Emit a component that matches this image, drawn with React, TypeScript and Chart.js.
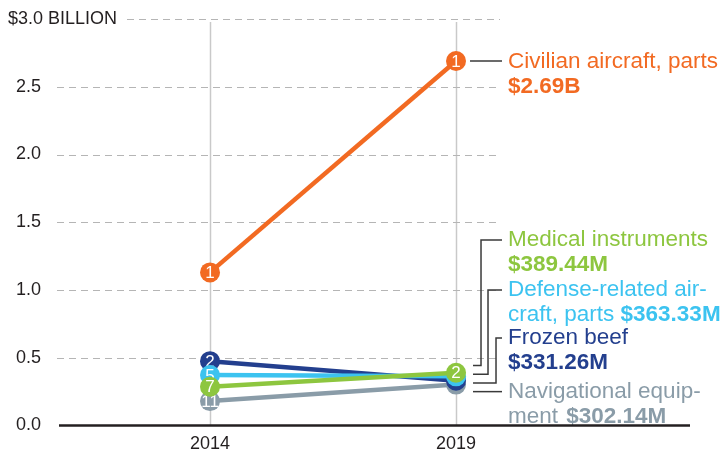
import React, { useEffect, useRef } from "react";
import { Chart, registerables } from "chart.js";

Chart.register(...registerables);

// ---- data ----
const years = [2014, 2019];
const civilianAircraft = [1.13, 2.69];
const frozenBeef = [0.475, 0.331];
const defenseAircraft = [0.373, 0.363];
const medicalInstruments = [0.286, 0.389];
const navigationalEquipment = [0.18, 0.302];

const civilianRanks = ["1", "1"];
const beefRanks = ["2", "4"];
const defenseRanks = ["5", "3"];
const medicalRanks = ["7", "2"];
const navRanks = ["11", "6"];

const yTickValues = [0, 0.5, 1, 1.5, 2, 2.5, 3];
const yTickLabels = ["0.0", "0.5", "1.0", "1.5", "2.0", "2.5", "$3.0 BILLION"];
const xTickLabels = ["2014", "2019"];

const COLORS = {
  civilian: "#F26A22",
  beef: "#233F8E",
  defense: "#3CC3F0",
  medical: "#8DC63F",
  nav: "#8A9CA8",
};

const FONT = '"Liberation Sans", Arial, Helvetica, sans-serif';

const seriesRanks = [navRanks, beefRanks, defenseRanks, medicalRanks, civilianRanks];

const mkData = (vals: number[]) => vals.map((v, i) => ({ x: years[i], y: v }));

const annotPlugin = {
  id: "annot",
  beforeDatasetsDraw(chart: any) {
    const ctx = chart.ctx as CanvasRenderingContext2D;
    const { chartArea } = chart;
    const xs = chart.scales.x;
    const ys = chart.scales.y;
    ctx.save();
    // vertical grid lines at years
    ctx.strokeStyle = "#c9c9c9";
    ctx.lineWidth = 1.5;
    years.forEach((yr) => {
      const x = Math.round(xs.getPixelForValue(yr)) + 0.5;
      ctx.beginPath();
      ctx.moveTo(x, ys.getPixelForValue(3) + 3);
      ctx.lineTo(x, ys.getPixelForValue(0));
      ctx.stroke();
    });
    // horizontal dashed grid
    ctx.strokeStyle = "#b5b5b5";
    ctx.lineWidth = 1;
    ctx.setLineDash([7, 5]);
    yTickValues.forEach((v) => {
      if (v === 0) return;
      const y = Math.round(ys.getPixelForValue(v)) + 0.5;
      const startX = v === 3 ? chartArea.left + 70 : chartArea.left;
      ctx.beginPath();
      ctx.moveTo(startX, y);
      ctx.lineTo(chartArea.right, y);
      ctx.stroke();
    });
    ctx.setLineDash([]);
    // y labels
    ctx.fillStyle = "#231f20";
    ctx.font = `18px ${FONT}`;
    ctx.textBaseline = "middle";
    yTickValues.forEach((v, i) => {
      const y = ys.getPixelForValue(v);
      if (i === yTickValues.length - 1) {
        ctx.textAlign = "left";
        ctx.fillText(yTickLabels[i], 8, y);
      } else {
        ctx.textAlign = "right";
        ctx.fillText(yTickLabels[i], 41, y);
      }
    });
    // x labels
    ctx.textAlign = "center";
    years.forEach((yr, i) => {
      ctx.fillText(xTickLabels[i], xs.getPixelForValue(yr), 444);
    });
    ctx.restore();
  },
  afterDatasetDraw(chart: any, args: any) {
    const ctx = chart.ctx as CanvasRenderingContext2D;
    const meta = chart.getDatasetMeta(args.index);
    const ranks = seriesRanks[args.index];
    ctx.save();
    ctx.fillStyle = "#ffffff";
    ctx.font = `17px ${FONT}`;
    ctx.textAlign = "center";
    ctx.textBaseline = "middle";
    meta.data.forEach((pt: any, i: number) => {
      ctx.fillText(ranks[i], pt.x, pt.y + 1);
    });
    ctx.restore();
  },
  afterDatasetsDraw(chart: any) {
    const ctx = chart.ctx as CanvasRenderingContext2D;
    const ys = chart.scales.y;
    const xs = chart.scales.x;
    ctx.save();
    const px2019 = xs.getPixelForValue(2019);
    const textX = px2019 + 52;
    const lineEnd = px2019 + 46;
    ctx.strokeStyle = "#3a3a3a";
    ctx.lineWidth = 1.5;

    // civilian connector
    const civY = ys.getPixelForValue(civilianAircraft[1]);
    ctx.beginPath();
    ctx.moveTo(px2019 + 14, civY);
    ctx.lineTo(lineEnd, civY);
    ctx.stroke();

    // group connectors
    const groupVals = [medicalInstruments[1], defenseAircraft[1], frozenBeef[1], navigationalEquipment[1]];
    const meanY = groupVals.reduce((s, v) => s + ys.getPixelForValue(v), 0) / groupVals.length;
    const spacing = 8.7;
    const labelTops = [240, 290, 338, 392];
    const elbowX = [px2019 + 25, px2019 + 32, px2019 + 40, null];
    groupVals.forEach((_, k) => {
      const cy = meanY + (k - 1.5) * spacing;
      ctx.beginPath();
      ctx.moveTo(px2019 + 17, cy);
      const ex = elbowX[k];
      if (ex !== null) {
        ctx.lineTo(ex, cy);
        ctx.lineTo(ex, labelTops[k]);
        ctx.lineTo(lineEnd, labelTops[k]);
      } else {
        ctx.lineTo(lineEnd, cy);
      }
      ctx.stroke();
    });

    // label texts
    ctx.textAlign = "left";
    ctx.textBaseline = "middle";
    const reg = `22.5px ${FONT}`;
    const bold = `bold 22.5px ${FONT}`;
    const lh = 25;

    ctx.fillStyle = COLORS.civilian;
    ctx.font = reg;
    ctx.fillText("Civilian aircraft, parts", textX, civY + 1);
    ctx.font = bold;
    ctx.fillText("$2.69B", textX, civY + 1 + lh);

    ctx.fillStyle = COLORS.medical;
    ctx.font = reg;
    ctx.fillText("Medical instruments", textX, labelTops[0]);
    ctx.font = bold;
    ctx.fillText("$389.44M", textX, labelTops[0] + lh);

    ctx.fillStyle = COLORS.defense;
    ctx.font = reg;
    ctx.fillText("Defense-related air-", textX, labelTops[1]);
    const w1 = ctx.measureText("craft, parts ").width;
    ctx.fillText("craft, parts ", textX, labelTops[1] + lh);
    ctx.font = bold;
    ctx.fillText("$363.33M", textX + w1, labelTops[1] + lh);

    ctx.fillStyle = COLORS.beef;
    ctx.font = reg;
    ctx.fillText("Frozen beef", textX, labelTops[2]);
    ctx.font = bold;
    ctx.fillText("$331.26M", textX, labelTops[2] + lh);

    ctx.fillStyle = COLORS.nav;
    ctx.font = reg;
    ctx.fillText("Navigational equip-", textX, labelTops[3]);
    const w2 = ctx.measureText("ment ").width + 2;
    ctx.fillText("ment ", textX, labelTops[3] + lh);
    ctx.font = bold;
    ctx.fillText("$302.14M", textX + w2, labelTops[3] + lh);

    // baseline
    const by = ys.getPixelForValue(0);
    ctx.strokeStyle = "#231f20";
    ctx.lineWidth = 2.5;
    ctx.beginPath();
    ctx.moveTo(59, by);
    ctx.lineTo(690, by);
    ctx.stroke();
    ctx.restore();
  },
};

export default function App() {
  const ref = useRef<HTMLCanvasElement | null>(null);
  useEffect(() => {
    if (!ref.current) return;
    const mk = (label: string, vals: number[], color: string) => ({
      label,
      data: mkData(vals),
      borderColor: color,
      backgroundColor: color,
      pointBackgroundColor: color,
      pointBorderWidth: 0,
      pointRadius: 10,
      pointHoverRadius: 10,
      borderWidth: 4.5,
      clip: false as any,
      tension: 0,
    });
    // datasets drawn in order: later on top
    const datasets = [
      mk("Navigational equipment", navigationalEquipment, COLORS.nav),
      mk("Frozen beef", frozenBeef, COLORS.beef),
      mk("Defense-related aircraft, parts", defenseAircraft, COLORS.defense),
      mk("Medical instruments", medicalInstruments, COLORS.medical),
      mk("Civilian aircraft, parts", civilianAircraft, COLORS.civilian),
    ].map((d, i) => ({ ...d, order: 10 - i }));

    const chart = new Chart(ref.current, {
      type: "line",
      data: { datasets },
      options: {
        animation: false,
        responsive: false,
        events: [],
        layout: { padding: { left: 57, right: 226, top: 19, bottom: 31.5 } },
        plugins: { legend: { display: false }, tooltip: { enabled: false } },
        scales: {
          x: { type: "linear", min: 2010.89, max: 2019.894, display: false },
          y: { type: "linear", min: 0, max: 3, display: false },
        },
      },
      plugins: [annotPlugin],
    });
    return () => chart.destroy();
  }, []);
  return (
    <div style={{ position: "absolute", left: 0, top: 0, width: 726, height: 457, background: "#fff" }}>
      <canvas ref={ref} width={726} height={457} style={{ width: 726, height: 457 }} />
    </div>
  );
}
